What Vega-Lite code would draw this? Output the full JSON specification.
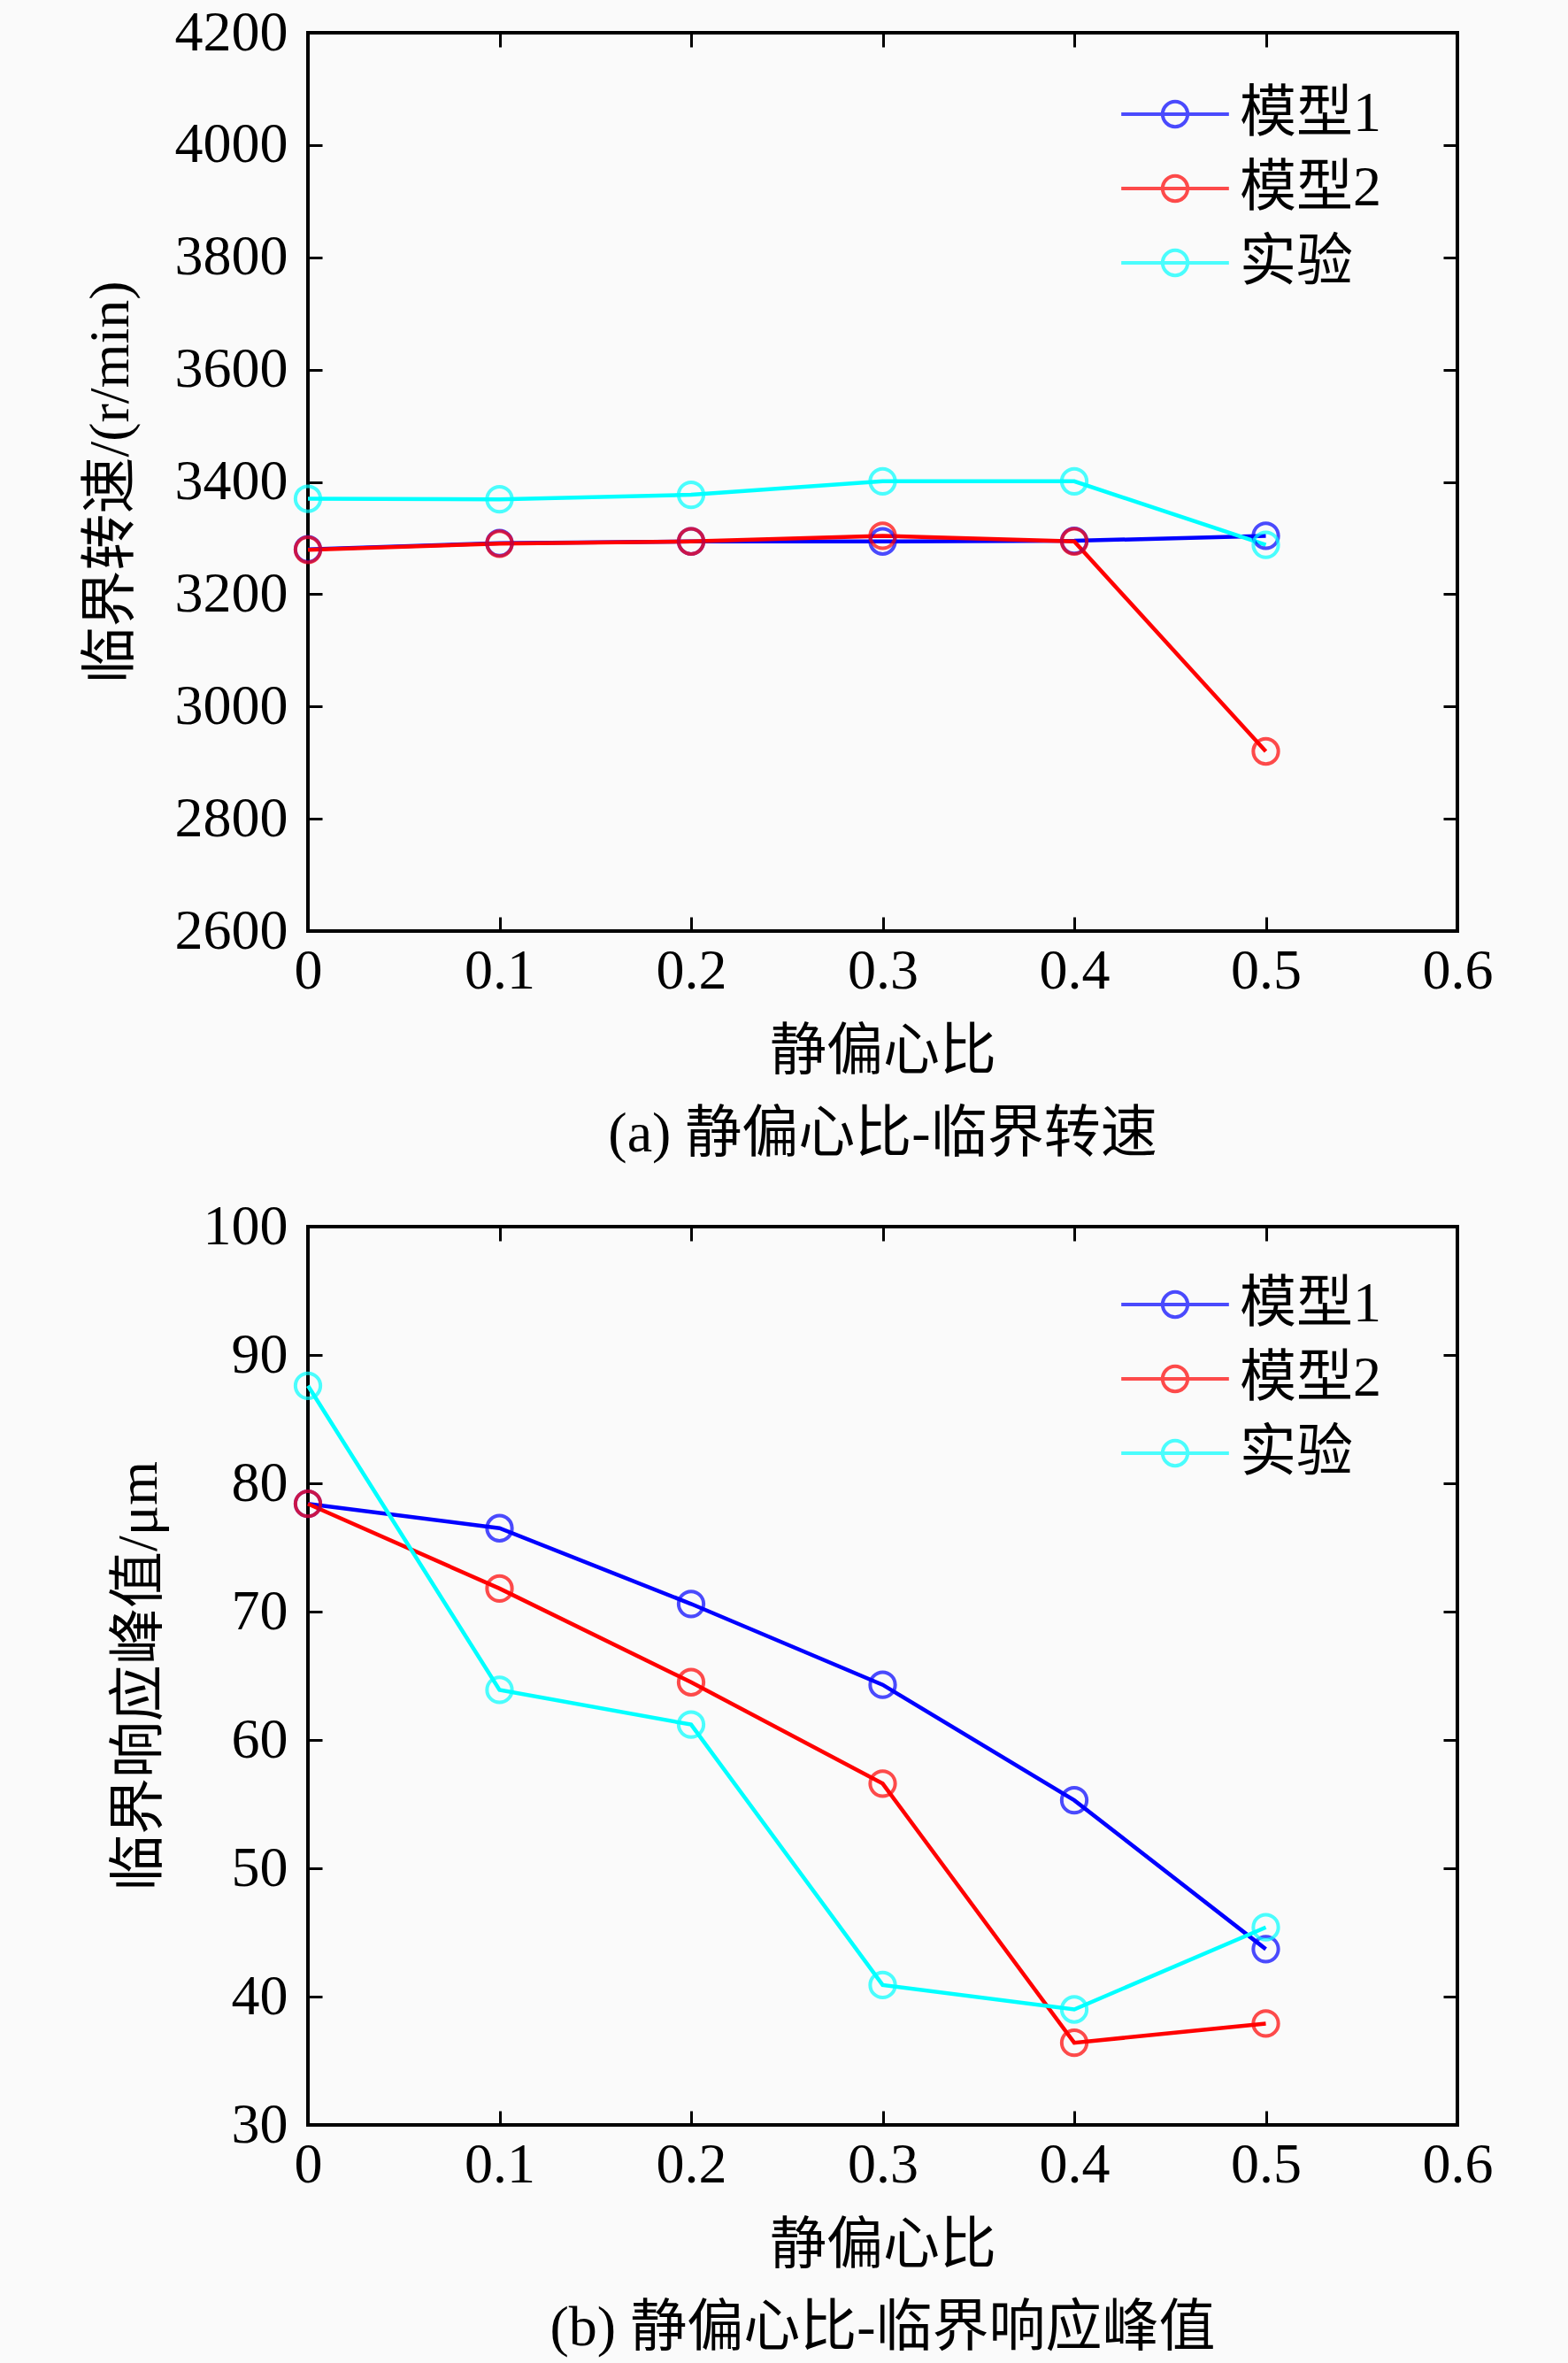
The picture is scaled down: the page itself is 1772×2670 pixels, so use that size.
{
  "$schema": "https://vega.github.io/schema/vega-lite/v6.json",
  "background": "#fafafa",
  "padding": {"left": 91, "top": 3, "right": 126, "bottom": 11},
  "spacing": 36,
  "datasets": {
    "a": [
      {"x": 0, "v": 3280, "s": "模型1"},
      {"x": 0.1, "v": 3291, "s": "模型1"},
      {"x": 0.2, "v": 3294, "s": "模型1"},
      {"x": 0.3, "v": 3294, "s": "模型1"},
      {"x": 0.4, "v": 3295, "s": "模型1"},
      {"x": 0.5, "v": 3304, "s": "模型1"},
      {"x": 0, "v": 3279, "s": "模型2"},
      {"x": 0.1, "v": 3290, "s": "模型2"},
      {"x": 0.2, "v": 3294, "s": "模型2"},
      {"x": 0.3, "v": 3304, "s": "模型2"},
      {"x": 0.4, "v": 3294, "s": "模型2"},
      {"x": 0.5, "v": 2920, "s": "模型2"},
      {"x": 0, "v": 3370, "s": "实验"},
      {"x": 0.1, "v": 3369, "s": "实验"},
      {"x": 0.2, "v": 3377, "s": "实验"},
      {"x": 0.3, "v": 3401, "s": "实验"},
      {"x": 0.4, "v": 3401, "s": "实验"},
      {"x": 0.5, "v": 3288, "s": "实验"}
    ],
    "b": [
      {"x": 0, "v": 78.4, "s": "模型1"},
      {"x": 0.1, "v": 76.5, "s": "模型1"},
      {"x": 0.2, "v": 70.6, "s": "模型1"},
      {"x": 0.3, "v": 64.3, "s": "模型1"},
      {"x": 0.4, "v": 55.3, "s": "模型1"},
      {"x": 0.5, "v": 43.7, "s": "模型1"},
      {"x": 0, "v": 78.4, "s": "模型2"},
      {"x": 0.1, "v": 71.8, "s": "模型2"},
      {"x": 0.2, "v": 64.5, "s": "模型2"},
      {"x": 0.3, "v": 56.6, "s": "模型2"},
      {"x": 0.4, "v": 36.4, "s": "模型2"},
      {"x": 0.5, "v": 37.9, "s": "模型2"},
      {"x": 0, "v": 87.6, "s": "实验"},
      {"x": 0.1, "v": 63.9, "s": "实验"},
      {"x": 0.2, "v": 61.2, "s": "实验"},
      {"x": 0.3, "v": 40.9, "s": "实验"},
      {"x": 0.4, "v": 39.0, "s": "实验"},
      {"x": 0.5, "v": 45.4, "s": "实验"}
    ]
  },
  "vconcat": [
    {
      "data": {"name": "a"},
      "width": 1299,
      "height": 1015,
      "title": {"text": "(a) 静偏心比-临界转速", "orient": "bottom", "frame": "group", "anchor": "middle", "offset": 30},
      "layer": [
        {
          "mark": {"type": "line", "strokeWidth": 4.5},
          "encoding": {
            "x": {"field": "x", "type": "quantitative", "scale": {"domain": [0, 0.6]},
                  "axis": {"values": [0, 0.1, 0.2, 0.3, 0.4, 0.5, 0.6], "format": ".1~f", "labelPadding": 29, "titlePadding": 27, "title": "静偏心比"}},
            "y": {"field": "v", "type": "quantitative", "scale": {"domain": [2600, 4200]},
                  "axis": {"values": [2600, 2800, 3000, 3200, 3400, 3600, 3800, 4000, 4200], "format": "d", "labelPadding": 39, "titlePadding": 40, "title": "临界转速/(r/min)"}},
            "color": {"field": "s", "type": "nominal",
                      "scale": {"domain": ["模型1", "模型2", "实验"], "range": ["#0000ff", "#ff0000", "#00ffff"]},
                      "legend": {"orient": "none", "legendX": 948, "legendY": 60}}
          }
        },
        {
          "mark": {"type": "point", "shape": "circle", "filled": false, "size": 800, "strokeWidth": 4},
          "encoding": {
            "x": {"field": "x", "type": "quantitative", "axis": null},
            "y": {"field": "v", "type": "quantitative", "axis": null},
            "color": {"field": "s", "type": "nominal"}
          }
        },
        {
          "mark": {"type": "point", "opacity": 0},
          "encoding": {
            "x": {"field": "x", "type": "quantitative",
                  "axis": {"orient": "top", "values": [0, 0.1, 0.2, 0.3, 0.4, 0.5, 0.6], "labels": false, "title": null}},
            "y": {"field": "v", "type": "quantitative",
                  "axis": {"orient": "right", "values": [2600, 2800, 3000, 3200, 3400, 3600, 3800, 4000, 4200], "labels": false, "title": null}}
          }
        }
      ],
      "resolve": {"axis": {"x": "independent", "y": "independent"}}
    },
    {
      "data": {"name": "b"},
      "width": 1299,
      "height": 1015,
      "title": {"text": "(b) 静偏心比-临界响应峰值", "orient": "bottom", "frame": "group", "anchor": "middle", "offset": 30},
      "layer": [
        {
          "mark": {"type": "line", "strokeWidth": 4.5},
          "encoding": {
            "x": {"field": "x", "type": "quantitative", "scale": {"domain": [0, 0.6]},
                  "axis": {"values": [0, 0.1, 0.2, 0.3, 0.4, 0.5, 0.6], "format": ".1~f", "labelPadding": 29, "titlePadding": 27, "title": "静偏心比"}},
            "y": {"field": "v", "type": "quantitative", "scale": {"domain": [30, 100]},
                  "axis": {"values": [30, 40, 50, 60, 70, 80, 90, 100], "format": "d", "labelPadding": 39, "titlePadding": 40, "title": "临界响应峰值/μm"}},
            "color": {"field": "s", "type": "nominal",
                      "scale": {"domain": ["模型1", "模型2", "实验"], "range": ["#0000ff", "#ff0000", "#00ffff"]},
                      "legend": {"orient": "none", "legendX": 948, "legendY": 56}}
          }
        },
        {
          "mark": {"type": "point", "shape": "circle", "filled": false, "size": 800, "strokeWidth": 4},
          "encoding": {
            "x": {"field": "x", "type": "quantitative", "axis": null},
            "y": {"field": "v", "type": "quantitative", "axis": null},
            "color": {"field": "s", "type": "nominal"}
          }
        },
        {
          "mark": {"type": "point", "opacity": 0},
          "encoding": {
            "x": {"field": "x", "type": "quantitative",
                  "axis": {"orient": "top", "values": [0, 0.1, 0.2, 0.3, 0.4, 0.5, 0.6], "labels": false, "title": null}},
            "y": {"field": "v", "type": "quantitative",
                  "axis": {"orient": "right", "values": [30, 40, 50, 60, 70, 80, 90, 100], "labels": false, "title": null}}
          }
        }
      ],
      "resolve": {"axis": {"x": "independent", "y": "independent"}}
    }
  ],
  "resolve": {"scale": {"color": "independent"}, "legend": {"color": "independent"}},
  "config": {
    "font": "Liberation Serif, Noto Sans CJK SC",
    "view": {"stroke": "black", "strokeWidth": 4},
    "axis": {
      "domain": false,
      "grid": false,
      "tickSize": -16,
      "tickWidth": 3,
      "tickColor": "black",
      "labelFont": "Liberation Serif, Noto Sans CJK SC",
      "labelFontSize": 64,
      "labelColor": "black",
      "labelFlush": false,
      "labelOverlap": false,
      "titleFont": "Liberation Serif, Noto Sans CJK SC",
      "titleFontSize": 64,
      "titleFontWeight": "normal",
      "titleColor": "black"
    },
    "legend": {
      "title": null,
      "padding": 0,
      "symbolType": "M-4.3,0H4.3M1,0A1,1,0,1,1,-1,0A1,1,0,1,1,1,0",
      "symbolSize": 800,
      "symbolStrokeWidth": 4,
      "symbolFillColor": "transparent",
      "labelFont": "Liberation Serif, Noto Sans CJK SC",
      "labelFontSize": 64,
      "labelColor": "black",
      "labelOffset": 41,
      "rowPadding": 20
    },
    "title": {
      "font": "Liberation Serif, Noto Sans CJK SC",
      "fontSize": 64,
      "fontWeight": "normal",
      "color": "black"
    }
  }
}
